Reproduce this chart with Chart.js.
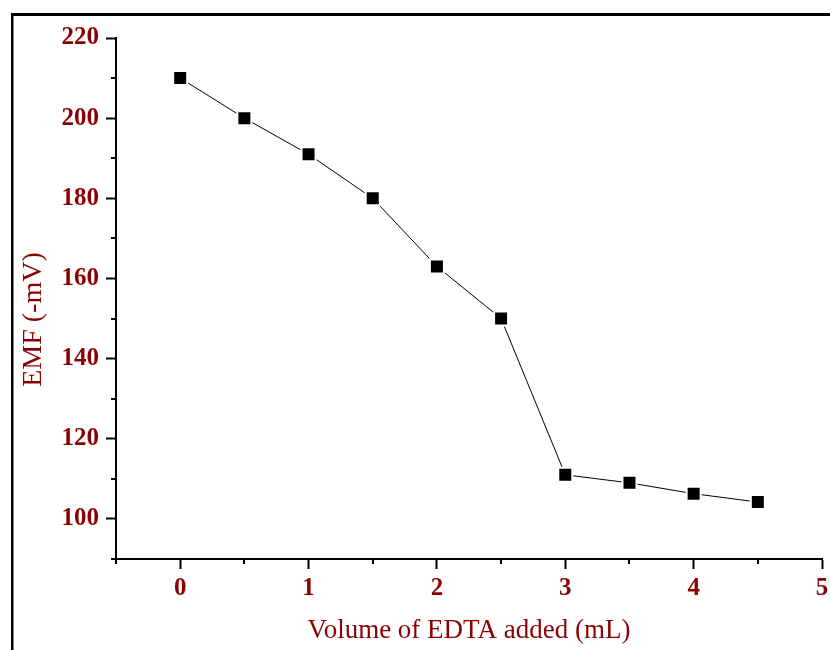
<!DOCTYPE html>
<html>
<head>
<meta charset="utf-8">
<script src="https://cdn.jsdelivr.net/npm/chart.js@4"></script>
<style>
html,body{margin:0;padding:0;background:#fff;}
canvas{display:block;}
</style>
</head>
<body>
<canvas id="c" width="830" height="650"></canvas>
<script>
const volumes = [0, 0.5, 1, 1.5, 2, 2.5, 3, 3.5, 4, 4.5];
const emf = [210, 200, 191, 180, 163, 150, 111, 109, 106.3, 104.2];
const xMajorTicks = [0, 1, 2, 3, 4, 5];
const xMinorTicks = [-0.5, 0.5, 1.5, 2.5, 3.5, 4.5];
const yMajorTicks = [100, 120, 140, 160, 180, 200, 220];
const yMinorTicks = [90, 110, 130, 150, 170, 190, 210];
const xTitle = 'Volume of EDTA added (mL)';
const yTitle = 'EMF (-mV)';

const labelColor = '#8B0000';
const serif = "'Liberation Serif', 'Times New Roman', serif";

const framePlugin = {
  id: 'frame',
  beforeDraw(chart) {
    const ctx = chart.ctx;
    ctx.save();
    ctx.fillStyle = '#fff';
    ctx.fillRect(0, 0, chart.width, chart.height);
    ctx.fillStyle = '#000';
    ctx.fillRect(11, 13, chart.width - 11, 3);
    ctx.fillRect(11, 13, 2.5, chart.height - 13);
    ctx.restore();
  }
};

const minorTickPlugin = {
  id: 'minorTicks',
  afterDraw(chart) {
    const ctx = chart.ctx;
    const xs = chart.scales.x, ys = chart.scales.y;
    ctx.save();
    ctx.strokeStyle = '#000';
    ctx.lineWidth = 2;
    ctx.beginPath();
    xMinorTicks.forEach(v => {
      const px = Math.round(xs.getPixelForValue(v));
      ctx.moveTo(px, xs.top);
      ctx.lineTo(px, xs.top + 5);
    });
    yMinorTicks.forEach(v => {
      const py = Math.round(ys.getPixelForValue(v));
      ctx.moveTo(ys.right, py);
      ctx.lineTo(ys.right - 5, py);
    });
    ctx.stroke();
    ctx.restore();
  }
};

new Chart(document.getElementById('c'), {
  type: 'line',
  data: {
    datasets: [{
      data: volumes.map((v, i) => ({x: v, y: emf[i]})),
      borderColor: '#000',
      borderWidth: 1,
      backgroundColor: '#000',
      pointStyle: 'rect',
      pointRadius: 9.9,
      pointBackgroundColor: '#000',
      pointBorderColor: '#fff',
      pointBorderWidth: 2,
      tension: 0
    }]
  },
  options: {
    responsive: false,
    animation: false,
    events: [],
    layout: {autoPadding: false, padding: {top: 38, right: 8, left: 0, bottom: 0}},
    plugins: {legend: {display: false}, tooltip: {enabled: false}},
    scales: {
      x: {
        type: 'linear',
        min: -0.5,
        max: 5,
        afterFit(s) { s.height = 91; s.paddingRight = 0; s.paddingLeft = 0; },
        afterBuildTicks(s) { s.ticks = xMajorTicks.map(v => ({value: v})); },
        border: {color: '#000', width: 2},
        grid: {drawOnChartArea: false, drawTicks: true, tickLength: 10, tickWidth: 2, tickColor: '#000'},
        ticks: {
          autoSkip: false,
          maxRotation: 0,
          padding: 5,
          color: labelColor,
          font: {family: serif, size: 25, weight: 'bold'},
          callback: v => String(v)
        },
        title: {
          display: true,
          text: xTitle,
          color: labelColor,
          font: {family: serif, size: 27, weight: 'normal'},
          padding: {top: 0, bottom: 3}
        }
      },
      y: {
        type: 'linear',
        min: 90,
        max: 220,
        afterFit(s) { s.width = 116; s.paddingTop = 0; s.paddingBottom = 0; },
        afterBuildTicks(s) { s.ticks = yMajorTicks.map(v => ({value: v})); },
        border: {color: '#000', width: 2},
        grid: {drawOnChartArea: false, drawTicks: true, tickLength: 10, tickWidth: 2, tickColor: '#000'},
        ticks: {
          autoSkip: false,
          padding: 7,
          color: labelColor,
          font: {family: serif, size: 25, weight: 'bold'},
          callback: v => String(v)
        },
        title: {
          display: true,
          text: yTitle + '\u00a0\u00a0\u00a0\u00a0\u00a0\u00a0',
          color: labelColor,
          font: {family: serif, size: 28, weight: 'normal'},
          padding: {top: 17, bottom: 0}
        }
      }
    }
  },
  plugins: [framePlugin, minorTickPlugin]
});
</script>
</body>
</html>
